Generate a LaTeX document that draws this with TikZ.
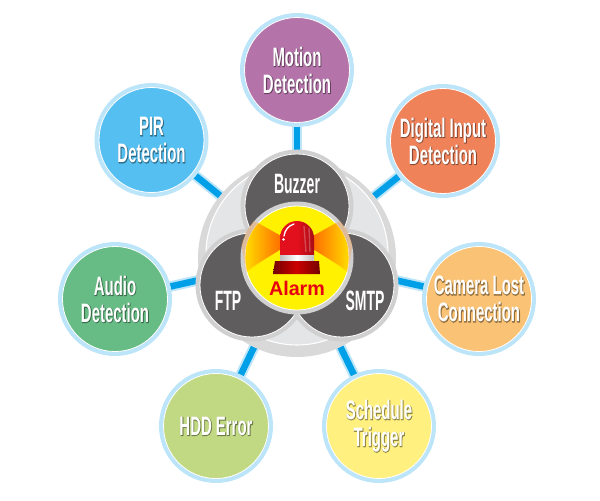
\documentclass[tikz,border=0pt]{standalone}
\usepackage{fontspec}
\setmainfont{Liberation Sans}
\newfontfamily\gothic[FakeStretch=.56]{Liberation Sans}
\newfontfamily\gothichub[FakeStretch=.5]{Liberation Sans}
\newfontfamily\gothicglow[FakeStretch=.56,FakeBold=3]{Liberation Sans}
\usetikzlibrary{backgrounds}

\definecolor{ringblue}{HTML}{BDE5F9}
\definecolor{linkblue}{HTML}{00A0E9}
\definecolor{ringgray}{HTML}{D0D0D0}
\definecolor{hubgray}{HTML}{5F5D5E}
\definecolor{palegray}{HTML}{E4E5E7}
\definecolor{sirenred}{HTML}{E2101C}
\definecolor{alarmred}{HTML}{E60012}
\definecolor{alarmyellow}{HTML}{FFF100}

\begin{document}
\begin{tikzpicture}[x=.75pt,y=-.75pt,
    event/.style={circle,draw=white,line width=.6pt,inner sep=0,outer sep=0,minimum size=78.75pt,
      preaction={draw=ringblue,line width=6.75pt}},
    eventtext/.style={inner sep=0,align=center,text=white,font=\gothic\bfseries\fontsize{20}{20.25}\selectfont},
    eventglow/.style={inner sep=0,align=center,text=black,text opacity=.3,font=\gothicglow\bfseries\fontsize{20}{20.25}\selectfont},
    hub/.style={circle,fill=hubgray,draw=white,line width=.6pt,inner sep=0,outer sep=0,minimum size=78pt,
      preaction={draw=ringgray,line width=6.75pt}},
    hubtext/.style={text=white,inner sep=0,font=\gothichub\bfseries\fontsize{21}{21}\selectfont},
    link/.style={draw=ringblue,line width=1.5pt,double=linkblue,double distance=4.9pt}]

  \useasboundingbox (0,0) rectangle (600,500);

  %% The round plate behind the three hubs
  \node[circle,fill=ringgray!80,inner sep=0,minimum size=148.5pt] (plate) at (297,258) {};
  \node[circle,fill=palegray,draw=white,line width=.8pt,inner sep=0,minimum size=136.5pt] (inner) at (297,254) {};

  %% The seven events around the plate
  \foreach \name/\x/\y/\col/\txt in {
      motion/297/70/B574A9/Motion\\Detection,
      digital/443/141/F0825A/Digital Input\\Detection,
      camera/479/299/FAC274/Camera Lost\\Connection,
      schedule/379/426/FFF07F/Schedule\\Trigger,
      hdd/216/426/C1D982/HDD Error,
      audio/115/299/66BC84/Audio\\Detection,
      pir/151.5/140/54BFF0/PIR\\Detection}{
    \definecolor{evcol}{HTML}{\col}
    \node[event,fill=evcol] (\name) at (\x,\y) {};
    \node[eventglow] (\name glow) at (\x+.5,\y+.6) {\txt};
    \node[eventtext] (\name text) at (\x,\y) {\txt};
  }

  %% The three hubs and the alarm in the middle
  \node[hub] (buzzer) at (297,206) {};
  \node[hub] (ftp) at (252,285) {};
  \node[hub] (smtp) at (342,285) {};
  \node[hub,fill=alarmyellow] (alarm) at (297,258) {};

  \node[hubtext] (buzzertext) at (297,184) {Buzzer};
  \node[hubtext] (ftptext) at (228,301) {FTP};
  \node[hubtext] (smtptext) at (365,301) {SMTP};

  %% Connectors go under everything
  \begin{pgfonlayer}{background}
    \foreach \name in {motion,digital,camera,schedule,hdd,audio,pir}{
      \draw[link] (\name) -- (alarm);
    }
  \end{pgfonlayer}

  %% Light beams, pale on the ring and solid inside
  \begin{scope}
    \clip (alarm.center) circle (57);
    \fill[orange,opacity=.25] (282,237) -- (236,211) -- (246,272) -- (282,248) -- cycle;
    \fill[orange,opacity=.25] (312,237) -- (358,211) -- (348,272) -- (312,248) -- cycle;
  \end{scope}
  \begin{scope}
    \clip (alarm.center) circle (52);
    \shade[left color=yellow!85!orange,right color=orange!80!red] (240,213) -- (283,237) -- (283,248) -- (250,268) -- cycle;
    \shade[right color=yellow!85!orange,left color=orange!80!red] (354,213) -- (311,237) -- (311,248) -- (344,268) -- cycle;
  \end{scope}

  %% The siren
  \shade[left color=sirenred,right color=sirenred!75!black,middle color=sirenred]
    (280,255) -- (280,238) arc (180:360:17) -- (314,255) -- cycle;
  \draw[white,line width=1pt,line cap=round] (284,236) .. controls (285,230) and (288,226) .. (294,224);
  \fill[white] (283.5,239.5) circle (1.3);
  \draw[white,opacity=.25,line width=1pt] (304,226) -- (306,252) (309,228) -- (310,252);
  \shade[left color=gray!50,right color=gray!50,middle color=white] (280,255) rectangle (314,260);
  \shade[left color=red!45!black,right color=red!45!black,middle color=red!80!black] (275,261) -- (319,261) -- (320,274) -- (273,274) -- cycle;

  \node[text=alarmred,inner sep=0,font=\bfseries\fontsize{14.8}{16}\selectfont] (alarmtext) at (297,288) {Alarm};

\end{tikzpicture}
\end{document}
